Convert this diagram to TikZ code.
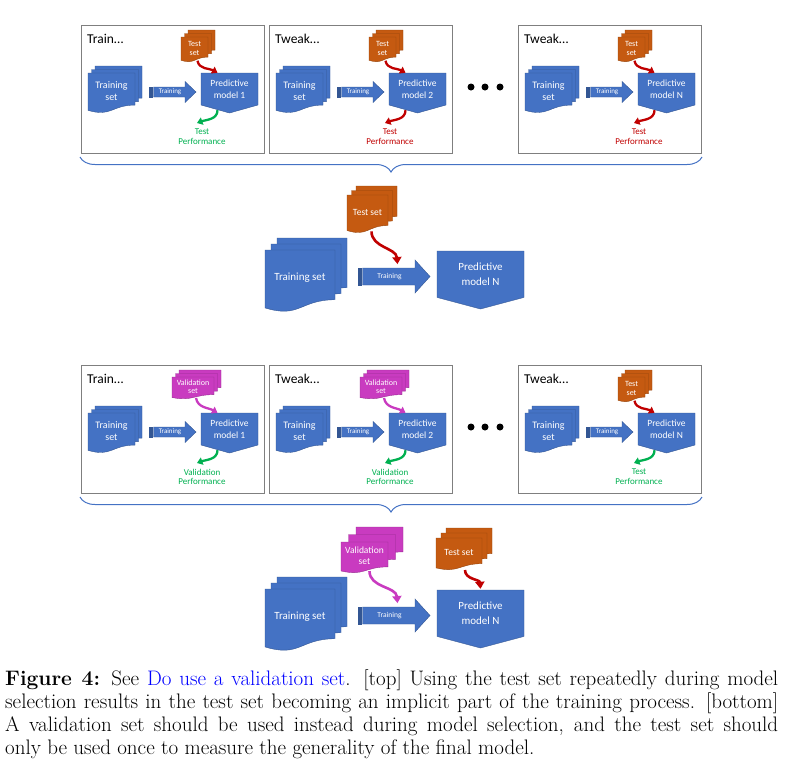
\documentclass[tikz,border=0pt]{standalone}
\usepackage{fontspec}
\usepackage{tikz}
\usetikzlibrary{arrows.meta,calc,decorations.pathreplacing}
\newfontfamily\calibri{Carlito}
\definecolor{SetBlue}{HTML}{4472C4}
\definecolor{SetOrange}{HTML}{C55A11}
\definecolor{SetMagenta}{HTML}{C93BC0}
\definecolor{PerfGreen}{HTML}{00B050}
\definecolor{PerfRed}{HTML}{C00000}
\definecolor{BoxGray}{HTML}{7F7F7F}
\definecolor{LinkBlue}{HTML}{0000FF}

\tikzset{
  page/.style={fill=#1,draw=#1!75!black,line width=0.4pt},
  settext/.style={text=white,align=center,inner sep=0pt},
  flowarrow/.style={draw=#1,line width=2.3pt,-{Triangle[length=5.5pt,width=7.5pt]}},
  bigflow/.style={draw=#1,line width=2.6pt,-{Triangle[length=7pt,width=9pt]}},
  panelbox/.style={draw=BoxGray,line width=0.8pt,inner sep=0pt,anchor=north west},
  titlefont/.style={font=\calibri\fontsize{13.5}{15}\selectfont},
  trainsmall/.style={font=\calibri\fontsize{10}{11.5}\selectfont},
  setsmall/.style={font=\calibri\fontsize{8}{8.5}\selectfont},
  modelsmall/.style={font=\calibri\fontsize{9.5}{12}\selectfont},
  arrowsmall/.style={font=\calibri\fontsize{7}{8}\selectfont},
  perfsmall/.style={font=\calibri\fontsize{9}{9.5}\selectfont,align=center,inner sep=0pt},
  trainbig/.style={font=\calibri\fontsize{11}{13}\selectfont},
  setbig/.style={font=\calibri\fontsize{9.5}{10.5}\selectfont},
  modelbig/.style={font=\calibri\fontsize{11}{15}\selectfont},
  arrowbig/.style={font=\calibri\fontsize{7.5}{8}\selectfont}
}

% one sheet with a wavy foot: x, y (top, downwards), w, h, colour
\newcommand\sheet[5]{%
  \path[page=#5] ({#1},{-(#2)}) -- ({#1+#3},{-(#2)})
    -- ({#1+#3},{-(#2)-0.802*#4})
    .. controls ({#1+0.5*#3},{-(#2)-0.802*#4}) and ({#1+0.5*#3},{-(#2)-1.1075*#4})
    .. ({#1},{-(#2)-0.934*#4}) -- cycle;}

% three sheets, front one named: name, x, y, w, h, offset, colour, font, text
\newcommand\sheetstack[9]{%
  \sheet{#2+2*#6}{#3-2*#6}{#4}{#5}{#7}
  \sheet{#2+#6}{#3-#6}{#4}{#5}{#7}
  \sheet{#2}{#3}{#4}{#5}{#7}
  \node[settext,#8,minimum width=#4,minimum height=0.9*#5] (#1) at ({#2+0.5*#4},{-(#3)-0.45*#5}) {#9};}

% pentagon: name, x, y, w, h, font, text
\newcommand\modelshape[7]{%
  \path[page=SetBlue] ({#2},{-(#3)}) -- ({#2+#4},{-(#3)}) -- ({#2+#4},{-(#3)-0.8*#5})
    -- ({#2+0.5*#4},{-(#3)-#5}) -- ({#2},{-(#3)-0.8*#5}) -- cycle;
  \node[settext,#6,minimum width=#4,minimum height=0.8*#5] (#1) at ({#2+0.5*#4},{-(#3)-0.4*#5}) {#7};}

% striped block arrow: name, tail x, mid y, length, body, head, head length, font
\newcommand\trainarrow[8]{%
  \path[page=SetBlue] ({#2+4.5},{-(#3)+0.5*#5}) -- ({#2+#4-#7},{-(#3)+0.5*#5})
    -- ({#2+#4-#7},{-(#3)+0.5*#6}) -- ({#2+#4},{-(#3)}) -- ({#2+#4-#7},{-(#3)-0.5*#6})
    -- ({#2+#4-#7},{-(#3)-0.5*#5}) -- ({#2+4.5},{-(#3)-0.5*#5}) -- cycle;
  \path[page=SetBlue] ({#2},{-(#3)+0.5*#5}) rectangle ({#2+1.2},{-(#3)-0.5*#5});
  \path[page=SetBlue] ({#2+2.2},{-(#3)+0.5*#5}) rectangle ({#2+3.4},{-(#3)-0.5*#5});
  \node[settext,#8] (#1) at ({#2+0.5*(#4-#7)+3},{-(#3)}) {Training};}

\begin{document}
\begin{tikzpicture}[x=1pt,y=1pt]
  \useasboundingbox (0,0) rectangle (785,-774);

  % model selection rounds
  \foreach \L/\T/\id/\ttl/\mdl/\sx/\sw/\sh/\scol/\acol/\stxt/\pcol/\ptxt in {
      81/25/A1/Train/1/100/27/25/SetOrange/PerfRed/Test\\set/PerfGreen/Test\\Performance,
      269/25/A2/Tweak/2/100/27/25/SetOrange/PerfRed/Test\\set/PerfRed/Test\\Performance,
      518/25/A3/Tweak/N/100/27/25/SetOrange/PerfRed/Test\\set/PerfRed/Test\\Performance,
      81/365/B1/Train/1/91/42/22/SetMagenta/SetMagenta/Validation\\set/PerfGreen/Validation\\Performance,
      269/365/B2/Tweak/2/91/42/22/SetMagenta/SetMagenta/Validation\\set/PerfGreen/Validation\\Performance,
      518/365/B3/Tweak/N/100/27/25/SetOrange/PerfRed/Test\\set/PerfGreen/Test\\Performance}
  {
    \node[panelbox,minimum width=183,minimum height=128] (box\id) at (\L,-\T) {};
    \node[titlefont,anchor=base west,inner sep=0pt] (title\id) at (\L+6,-\T-18) {\ttl…};
    \sheetstack{train\id}{\L+7}{\T+48}{47}{40}{3.5}{SetBlue}{trainsmall}{Training\\set}
    \sheetstack{set\id}{\L+\sx}{\T+12}{\sw}{\sh}{3.5}{\scol}{setsmall}{\stxt}
    \trainarrow{arrow\id}{\L+68}{\T+67}{47}{10}{21}{11}{arrowsmall}
    \modelshape{model\id}{\L+120}{\T+48}{57}{40}{modelsmall}{Predictive\\model \mdl}
    \node[perfsmall,text=\pcol,anchor=north] (perf\id) at (\L+121,-\T-104) {\ptxt};
    \draw[flowarrow=\acol] ($(set\id.south)+(3,-1)$) to[out=-80,in=150] ($(model\id.north)+(-12,0)$);
    \draw[flowarrow=\pcol] ($(model\id.south)+(-12,-5)$) to[out=-90,in=20] ($(perf\id.north)+(-5,6)$);
  }
  \foreach \y in {87,427}
    \foreach \x in {471,485,500}
      \fill (\x,-\y) circle (3.5);

  % braces
  \draw[SetBlue,line width=1pt,decorate,decoration={brace,mirror,amplitude=15pt}] (80,-157) -- (702,-157);
  \draw[SetBlue,line width=1pt,decorate,decoration={brace,mirror,amplitude=15pt}] (80,-497) -- (702,-497);

  % final model, top
  \sheetstack{bigtrainA}{265}{250}{70}{62}{6}{SetBlue}{trainbig}{Training set}
  \sheetstack{bigtestA}{347}{195}{41}{38}{4.5}{SetOrange}{setbig}{Test set}
  \trainarrow{bigarrowA}{358}{276.5}{72}{17}{33}{15}{arrowbig}
  \modelshape{bigmodelA}{437}{251}{87}{58}{modelbig}{Predictive\\model N}
  \draw[bigflow=PerfRed] ($(bigtestA.south)+(4,-2)$) to[out=-90,in=95] ($(bigarrowA.north)+(8,9)$);

  % final model, bottom
  \sheetstack{bigtrainB}{265}{589}{70}{62}{6}{SetBlue}{trainbig}{Training set}
  \sheetstack{bigvalB}{341}{542}{47}{31}{7.5}{SetMagenta}{setbig}{Validation\\set}
  \sheetstack{bigtestB}{436}{538}{46}{32}{5}{SetOrange}{setbig}{Test set}
  \trainarrow{bigarrowB}{358}{615.5}{72}{17}{33}{15}{arrowbig}
  \modelshape{bigmodelB}{437}{590}{87}{58}{modelbig}{Predictive\\model N}
  \draw[bigflow=SetMagenta] ($(bigvalB.south)+(5,-1)$) to[out=-90,in=95] ($(bigarrowB.north)+(8,9)$);
  \draw[bigflow=PerfRed] ($(bigtestB.south)+(6,-3)$) to[out=-90,in=95] ($(bigmodelB.north)+(0,1)$);

  \node[anchor=north west,inner sep=0pt,text width=773pt,align=justify,
        font=\fontsize{21}{22.7}\selectfont] (caption) at (5,-670)
    {\textbf{Figure 4:} See \textcolor{LinkBlue}{Do use a validation set}. [top] Using the test set repeatedly during model\linebreak
     selection results in the test set becoming an implicit part of the training process. [bottom]\linebreak
     A validation set should be used instead during model selection, and the test set should\linebreak
     only be used once to measure the generality of the final model.};
\end{tikzpicture}
\end{document}
